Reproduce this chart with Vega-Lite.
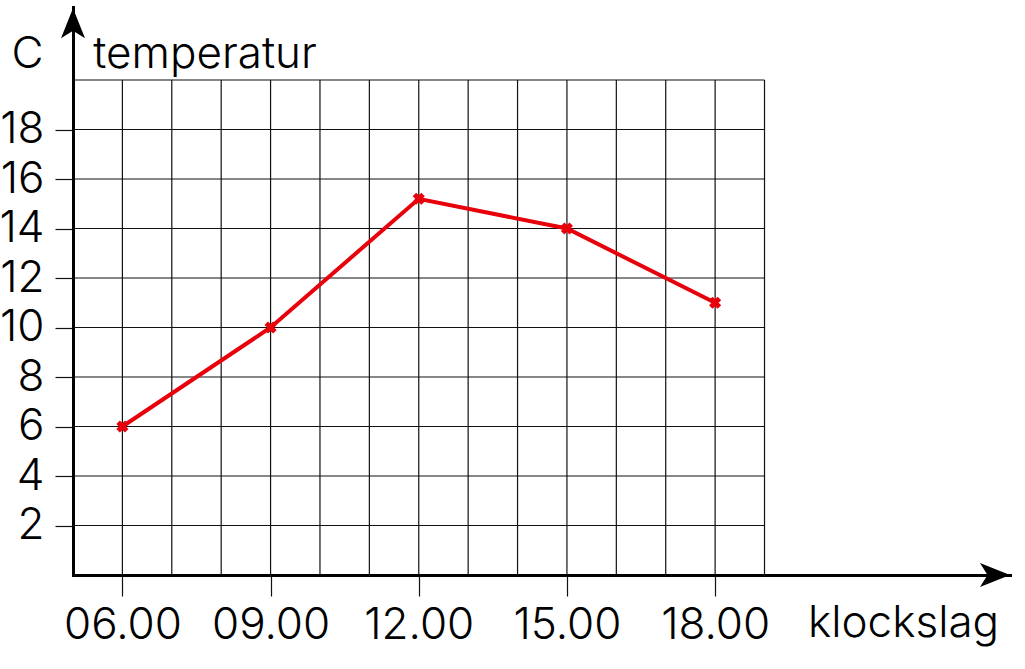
{
  "$schema": "https://vega.github.io/schema/vega-lite/v6.json",
  "autosize": {"type": "none"},
  "width": 937,
  "height": 568,
  "padding": {"left": 73, "top": 7, "right": 15, "bottom": 94},
  "background": "white",
  "config": {
    "view": {"stroke": null},
    "font": "Inter",
    "text": {"font": "Inter", "fontWeight": 300, "fontSize": 44}
  },
  "layer": [
    {
      "data": {"values": [
        {"hour": 6}, {"hour": 7}, {"hour": 8}, {"hour": 9}, {"hour": 10},
        {"hour": 11}, {"hour": 12}, {"hour": 13}, {"hour": 14}, {"hour": 15},
        {"hour": 16}, {"hour": 17}, {"hour": 18}, {"hour": 19}
      ]},
      "mark": {"type": "rule", "stroke": "#111", "strokeWidth": 1.2},
      "encoding": {
        "x": {
          "field": "hour", "type": "quantitative",
          "scale": {"domain": [5, 23.97], "nice": false, "zero": false},
          "axis": {
            "title": null, "grid": false,
            "values": [6, 9, 12, 15, 18],
            "labelExpr": "(datum.value < 10 ? '0' : '') + datum.value + '.00'",
            "labelFont": "Inter", "labelFontWeight": 300, "labelFontSize": 44, "labelColor": "black",
            "labelBaseline": "alphabetic", "labelPadding": 42, "labelFlush": false, "labelOverlap": false,
            "tickSize": 21, "tickColor": "#111", "tickWidth": 1.2,
            "domainColor": "black", "domainWidth": 3, "domainCap": "square"
          }
        },
        "y": {"datum": 0, "type": "quantitative"},
        "y2": {"datum": 20}
      }
    },
    {
      "data": {"values": [
        {"temp": 2}, {"temp": 4}, {"temp": 6}, {"temp": 8}, {"temp": 10},
        {"temp": 12}, {"temp": 14}, {"temp": 16}, {"temp": 18}, {"temp": 20}
      ]},
      "mark": {"type": "rule", "stroke": "#111", "strokeWidth": 1.2},
      "encoding": {
        "y": {
          "field": "temp", "type": "quantitative",
          "scale": {"domain": [0, 22.95], "nice": false, "zero": false},
          "axis": {
            "title": null, "grid": false,
            "values": [2, 4, 6, 8, 10, 12, 14, 16, 18],
            "labelFont": "Inter", "labelFontWeight": 300, "labelFontSize": 44, "labelColor": "black",
            "labelPadding": 11, "labelFlush": false, "labelOverlap": false,
            "tickSize": 18, "tickColor": "#111", "tickWidth": 1.2,
            "domainColor": "black", "domainWidth": 3, "domainCap": "square"
          }
        },
        "x": {"datum": 5, "type": "quantitative"},
        "x2": {"datum": 19}
      }
    },
    {
      "data": {"values": [
        {"hour": 6, "temp": 6},
        {"hour": 9, "temp": 10},
        {"hour": 12, "temp": 15.2},
        {"hour": 15, "temp": 14},
        {"hour": 18, "temp": 11}
      ]},
      "layer": [
        {
          "mark": {"type": "line", "color": "#e8000b", "strokeWidth": 4},
          "encoding": {
            "x": {"field": "hour", "type": "quantitative"},
            "y": {"field": "temp", "type": "quantitative"}
          }
        },
        {
          "mark": {"type": "point", "shape": "cross", "angle": 45, "filled": true, "color": "#e8000b", "size": 150, "opacity": 1},
          "encoding": {
            "x": {"field": "hour", "type": "quantitative"},
            "y": {"field": "temp", "type": "quantitative"}
          }
        }
      ]
    },
    {
      "data": {"values": [
        {"hour": 23.97, "temp": 0, "rot": 0},
        {"hour": 5, "temp": 22.9, "rot": 270}
      ]},
      "mark": {"type": "point", "shape": "M0,0 L-1,-0.4 L-0.75,0 L-1,0.4 Z", "filled": true, "color": "black", "opacity": 1, "size": 3600},
      "encoding": {
        "x": {"field": "hour", "type": "quantitative"},
        "y": {"field": "temp", "type": "quantitative"},
        "angle": {"field": "rot", "type": "quantitative", "scale": null}
      }
    },
    {
      "data": {"values": [
        {"hour": 4.08, "temp": 20.48, "label": "C"}
      ]},
      "mark": {"type": "text", "baseline": "alphabetic", "align": "center", "color": "black"},
      "encoding": {
        "x": {"field": "hour", "type": "quantitative"},
        "y": {"field": "temp", "type": "quantitative"},
        "text": {"field": "label"}
      }
    },
    {
      "data": {"values": [
        {"hour": 5.41, "temp": 20.48, "label": "temperatur"},
        {"hour": 19.88, "temp": -2.5, "label": "klockslag"}
      ]},
      "mark": {"type": "text", "baseline": "alphabetic", "align": "left", "color": "black"},
      "encoding": {
        "x": {"field": "hour", "type": "quantitative"},
        "y": {"field": "temp", "type": "quantitative"},
        "text": {"field": "label"}
      }
    }
  ]
}
